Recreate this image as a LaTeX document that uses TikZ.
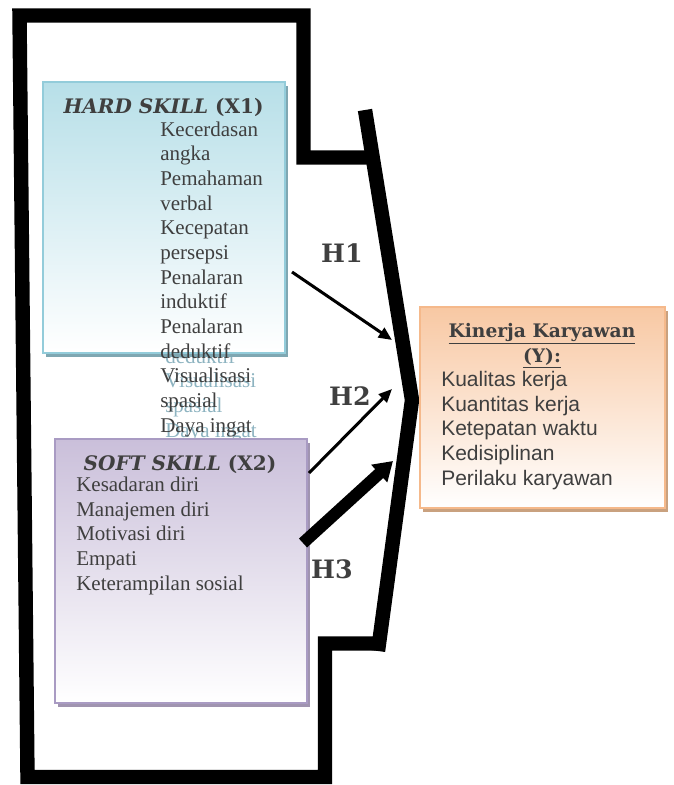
\documentclass[tikz,border=0pt]{standalone}
\usepackage{fontspec}
\setmainfont{Liberation Serif}
\newfontfamily\bookfont{DejaVu Serif}
\newfontfamily\arialfont{Liberation Sans}
\usetikzlibrary{arrows.meta,shadows}
\definecolor{ink}{HTML}{3F3F3F}
\definecolor{hardtop}{HTML}{B7DFE8}
\definecolor{hardline}{HTML}{93CCDA}
\definecolor{hardshade}{HTML}{7FA7B2}
\definecolor{softtop}{HTML}{CABFDA}
\definecolor{softline}{HTML}{A99BC3}
\definecolor{softshade}{HTML}{A094B0}
\definecolor{ytop}{HTML}{F8C8A3}
\definecolor{yline}{HTML}{F5B98B}
\definecolor{yshade}{HTML}{C9A17F}
\definecolor{ghost}{HTML}{8DB3C0}

\begin{document}
\begin{tikzpicture}[x=0.75pt,y=-0.75pt,
    frame/.style={line width=10.8pt,line join=miter},
    skillbox/.style={rectangle,line width=1.8pt,inner sep=0pt},
    title/.style={font=\bookfont\bfseries\fontsize{15}{18.5}\selectfont,text=ink,inner sep=0pt,anchor=base},
    items/.style={font=\fontsize{15.75}{18.5}\selectfont,text=ink,align=left,inner sep=0pt,anchor=base west},
    hlabel/.style={font=\bookfont\bfseries\fontsize{19}{22}\selectfont,text=ink,inner sep=0pt,anchor=base},
    harrow/.style={line width=2.25pt,-{Triangle[length=10pt,width=8.5pt]}},
    harrowbig/.style={line width=9pt,-{Triangle[length=14pt,width=17pt]}}]
  \useasboundingbox (0,0) rectangle (674,785);

  % outer frame
  \draw[frame] (372,157.5) -- (303.5,157.5) -- (303.5,15.5) -- (19.5,15.5) -- (27.5,777) -- (325,777) -- (325,643.5) -- (379,643.5);
  \draw[frame] (365,110) -- (412,400) -- (378,651);

  % text shadow of the hard skill list (base = last line)
  \node[items,text=ghost] (hardghost) at (165,437) {Kecerdasan\\angka\\Pemahaman\\verbal\\Kecepatan\\persepsi\\Penalaran\\induktif\\Penalaran\\deduktif\\Visualisasi\\spasial\\Daya ingat};

  % boxes
  \node[skillbox,draw=hardline,top color=hardtop,bottom color=white,minimum width=181.5pt,minimum height=203.25pt,
    drop shadow={shadow xshift=2.5pt,shadow yshift=-3pt,fill=hardshade,opacity=1}] (hard) at (164,217.5) {};
  \node[skillbox,draw=softline,top color=softtop,bottom color=white,minimum width=189pt,minimum height=198pt,
    drop shadow={shadow xshift=2.5pt,shadow yshift=-3pt,fill=softshade,opacity=1}] (soft) at (181,571) {};
  \node[skillbox,draw=yline,top color=ytop,bottom color=white,minimum width=183.75pt,minimum height=150.75pt,
    drop shadow={shadow xshift=2.5pt,shadow yshift=-3pt,fill=yshade,opacity=1}] (kinerja) at (542.5,407.5) {};

  % texts
  \node[title] (hardtitle) at (163.5,113) {\itshape HARD SKILL \upshape (X1)};
  \node[items] (harditems) at (160,432) {Kecerdasan\\angka\\Pemahaman\\verbal\\Kecepatan\\persepsi\\Penalaran\\induktif\\Penalaran\\deduktif\\Visualisasi\\spasial\\Daya ingat};
  \node[title] (softtitle) at (180,470) {\itshape SOFT SKILL \upshape (X2)};
  \node[items] (softitems) at (76,590) {Kesadaran diri\\Manajemen diri\\Motivasi diri\\Empati\\Keterampilan sosial};
  \node[title,align=center,font=\bookfont\bfseries\fontsize{14}{18.5}\selectfont] (ytitle) at (542,362) {\underline{Kinerja Karyawan}\\\underline{(Y):}};
  \node[items,font=\arialfont\fontsize{15.75}{18.4}\selectfont] (yitems) at (441,485) {Kualitas kerja\\Kuantitas kerja\\Ketepatan waktu\\Kedisiplinan\\Perilaku karyawan};

  % hypotheses
  \coordinate (h1s) at (292,272);
  \coordinate (h1e) at (392,340);
  \coordinate (h2s) at (309,473);
  \coordinate (h2e) at (392,389);
  \coordinate (h3s) at (303,543);
  \coordinate (h3e) at (393,461);
  \draw[harrow] (h1s) -- (h1e);
  \draw[harrow] (h2s) -- (h2e);
  \draw[harrowbig] (h3s) -- (h3e);
  \node[hlabel] (h1) at (342,262) {H1};
  \node[hlabel] (h2) at (350,405) {H2};
  \node[hlabel] (h3) at (332,578) {H3};
\end{tikzpicture}
\end{document}
